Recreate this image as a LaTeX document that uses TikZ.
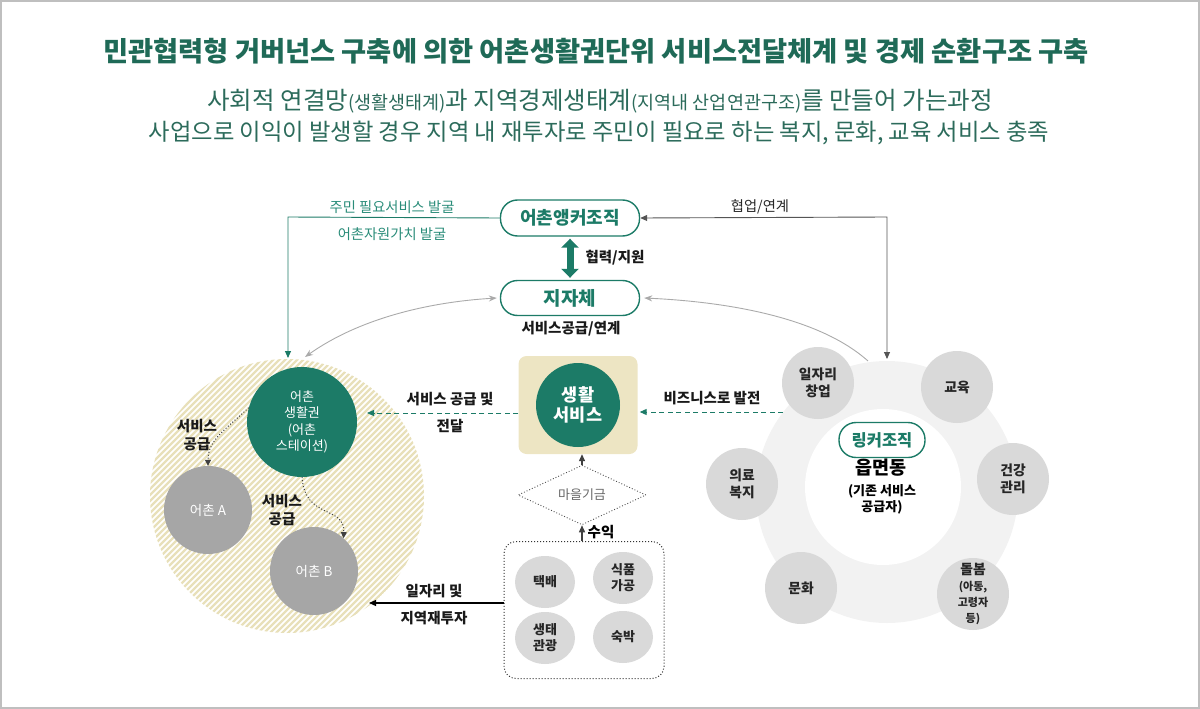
\documentclass[tikz,border=0pt]{standalone}
\usepackage{fontspec}
\setmainfont{Noto Sans CJK KR}
\usetikzlibrary{arrows.meta,shapes.geometric}
\definecolor{mygreen}{HTML}{1C7B67}
\definecolor{titlegreen}{HTML}{1F6A57}
\definecolor{subgreen}{HTML}{2C6B5B}
\definecolor{tealtext}{HTML}{2A8C79}
\definecolor{beige}{HTML}{EDE5C3}
\definecolor{hatch}{HTML}{E8E0BA}
\definecolor{midgray}{HTML}{A6A6A6}
\definecolor{lightgray}{HTML}{D9D9D9}
\definecolor{ringgray}{HTML}{F2F2F2}
\definecolor{bordergray}{HTML}{BFBFBF}
\definecolor{darkline}{HTML}{555555}
\definecolor{curvegray}{HTML}{AAAAAA}
\newcommand{\fsz}[1]{\fontsize{#1}{\dimexpr #1pt*5/4\relax}\selectfont}
\tikzset{
  pill/.style={draw=mygreen, line width=1.4pt, rounded corners=17pt, fill=white, text=mygreen, font=\bfseries\fsz{18}, inner sep=0pt},
  lbl/.style={font=\fsz{14.3}, text=black!85, inner sep=0pt, align=center},
  blbl/.style={font=\bfseries\fsz{14.5}, text=black!90, inner sep=0pt, align=center},
  tlbl/.style={font=\fsz{14.3}, text=tealtext, inner sep=0pt},
  gcirc/.style={circle, fill=mygreen, text=white, inner sep=0pt, align=center},
  vcirc/.style={circle, fill=midgray, text=white, font=\fsz{13.5}, minimum size=88pt, inner sep=0pt},
  ell/.style={ellipse, fill=lightgray, minimum width=60pt, minimum height=52pt, inner sep=0pt, font=\bfseries\fsz{13}, align=center, text=black!85},
  scirc/.style={circle, fill=lightgray, minimum size=72pt, inner sep=0pt, font=\bfseries\fsz{13.8}, align=center, text=black!85},
  tip/.style={-{Triangle[length=7pt,width=6pt]}},
}
\begin{document}
\begin{tikzpicture}[x=1pt,y=-1pt]
\useasboundingbox (0,0) rectangle (1200,709);
\draw[bordergray, line width=1.6pt] (1,1) rectangle (1199,708);

% titles
\node[font=\bfseries\fsz{27.3}, text=titlegreen, inner sep=0pt] (title) at (596,51) {민관협력형 거버넌스 구축에 의한 어촌생활권단위 서비스전달체계 및 경제 순환구조 구축};
\node[font=\fsz{24.5}, text=subgreen, inner sep=0pt] (sub1) at (600,101) {사회적 연결망{\fsz{18.5}(생활생태계)}과 지역경제생태계{\fsz{18.5}(지역내 산업연관구조)}를 만들어 가는과정};
\node[font=\fsz{23.3}, text=subgreen, inner sep=0pt] (sub2) at (599,133) {사업으로 이익이 발생할 경우 지역 내 재투자로 주민이 필요로 하는 복지, 문화, 교육 서비스 충족};

% left hatched circle
\begin{scope}
\clip (287,496) circle (137);
\foreach \i in {-300,-294,...,300} {
  \draw[hatch, line width=2.2pt] (287+\i-160,496+160) -- (287+\i+160,496-160);
}
\end{scope}
\node[circle, minimum size=274pt, inner sep=0pt] (vill) at (287,496) {};

% right ring
\node[circle, fill=ringgray, minimum size=262pt, inner sep=0pt] (ring) at (887,492) {};
\node[circle, fill=white, minimum size=156pt, inner sep=0pt] (inner) at (883,487) {};

% top pills
\node[pill, minimum width=139pt, minimum height=36pt] (anchor) at (570,218) {어촌앵커조직};
\node[pill, minimum width=139pt, minimum height=35pt, font=\bfseries\fsz{19}] (jija) at (570,298) {지자체};
\draw[mygreen, line width=7pt, {Triangle[length=9pt,width=17pt]}-{Triangle[length=9pt,width=17pt]}] (anchor.south) ++(0,2) -- ([yshift=2pt]jija.north);
\node[blbl] (coop) at (615,258) {협력/지원};
\node[blbl] (supply) at (571,329) {서비스공급/연계};

% left teal line
\coordinate (lt) at (288,217);
\coordinate (lb) at (288,358);
\draw[mygreen, line width=0.9pt, tip] (anchor.west) -- (lt) -- (lb);
\node[tlbl] (t1) at (392,207) {주민 필요서비스 발굴};
\node[tlbl] (t2) at (392,234) {어촌자원가치 발굴};

% right dark line
\coordinate (rt) at (887,217);
\coordinate (rb) at (887,359);
\draw[darkline, line width=0.9pt, {Triangle[length=7pt,width=6pt]}-{Triangle[length=7pt,width=6pt]}] (anchor.east) -- (rt) -- (rb);
\node[lbl] (t3) at (760,207) {협업/연계};

% gray curves
\coordinate (cl) at (305,357);
\draw[curvegray, line width=0.9pt, {Stealth[length=8pt,width=6pt]}-{Stealth[length=8pt,width=6pt]}] (cl) .. controls (360,318) and (430,302) .. ([xshift=-3pt]jija.west);
\coordinate (cr) at (868,361);
\draw[curvegray, line width=0.9pt, -{Stealth[length=8pt,width=6pt]}] (cr) .. controls (820,318) and (730,302) .. ([xshift=4pt]jija.east);

% left circles
\node[gcirc, minimum size=110pt, font=\fsz{13}] (hub) at (302,422) {어촌\\생활권\\(어촌\\스테이션)};
\node[vcirc] (va) at (208,510) {어촌 A};
\node[vcirc] (vb) at (314,571) {어촌 B};
\draw[black!75, dotted, line width=1pt, -{Triangle[length=6pt,width=6pt]}] (hub.165) .. controls (225,430) and (208,440) .. (va.north);
\draw[black!75, dotted, line width=1pt, -{Triangle[length=6pt,width=6pt]}] (hub.south) .. controls (305,520) and (345,505) .. (vb.48);
\node[blbl] (s1) at (197,435) {서비스\\공급};
\node[blbl] (s2) at (282,510) {서비스\\공급};

% center service box
\node[fill=beige, rounded corners=8pt, minimum width=119pt, minimum height=98pt, inner sep=0pt] (lsbox) at (578,405) {};
\node[gcirc, minimum size=84pt, font=\bfseries\fsz{17.5}] (ls) at (578,405) {생활\\[-2pt]서비스};
\coordinate (d1) at (367,413);
\draw[mygreen, dashed, line width=1pt, dash pattern=on 5pt off 3.5pt, tip] (lsbox.west |- d1) -- (d1);
\node[blbl] (s3) at (450,399) {서비스 공급 및};
\node[blbl] (s4) at (450,426) {전달};

\coordinate (d2) at (783,412);
\draw[mygreen, dashed, line width=1pt, dash pattern=on 5pt off 3.5pt, tip] (d2) -- ([xshift=2pt]lsbox.east |- d2);
\node[blbl] (s5) at (712,398) {비즈니스로 발전};

% fund diamond
\node[diamond, draw=black!70, dotted, line width=0.9pt, minimum width=128pt, minimum height=57pt, inner sep=0pt, font=\fsz{13}, text=black!60] (fund) at (582,495) {마을기금};
\draw[black!75, line width=1.3pt, tip] (fund.north) -- (fund.north |- lsbox.south);

% business box
\node[draw=black!80, dotted, line width=1pt, rounded corners=12pt, minimum width=160pt, minimum height=137pt, inner sep=0pt] (biz) at (584,610) {};
\draw[black!75, line width=1.3pt, tip] (biz.north -| fund.south) -- (fund.south);
\node[font=\bfseries\fsz{14.5}, inner sep=0pt] (rev) at (601,532) {수익};
\node[ell] (e1) at (545,582) {택배};
\node[ell] (e2) at (623,578) {식품\\가공};
\node[ell] (e3) at (545,638) {생태\\관광};
\node[ell] (e4) at (623,637) {숙박};

\coordinate (d3) at (369,603);
\draw[black, line width=1.1pt, tip] (biz.west |- d3) -- (d3);
\node[blbl] (s6) at (434,591) {일자리 및};
\node[blbl] (s7) at (434,618) {지역재투자};

% ring content
\node[scirc] (c1) at (818,383) {일자리\\창업};
\node[scirc] (c2) at (957,387) {교육};
\node[scirc] (c3) at (1013,479) {건강\\관리};
\node[scirc] (c4) at (973,594) {돌봄\\[-1pt]{\fsz{11}(아동,}\\[-1pt]{\fsz{11}고령자}\\[-1pt]{\fsz{11}등)}};
\node[scirc] (c5) at (801,588) {문화};
\node[scirc] (c6) at (742,484) {의료\\복지};

\node[pill, minimum width=86pt, minimum height=35pt, font=\bfseries\fsz{16.5}] (linker) at (882,440) {링커조직};
\node[font=\bfseries\fsz{18.5}, inner sep=0pt] (eup) at (881,468) {읍면동};
\node[font=\bfseries\fsz{13}, inner sep=0pt, align=center] (exist) at (882,499) {(기존 서비스\\공급자)};
\end{tikzpicture}
\end{document}
